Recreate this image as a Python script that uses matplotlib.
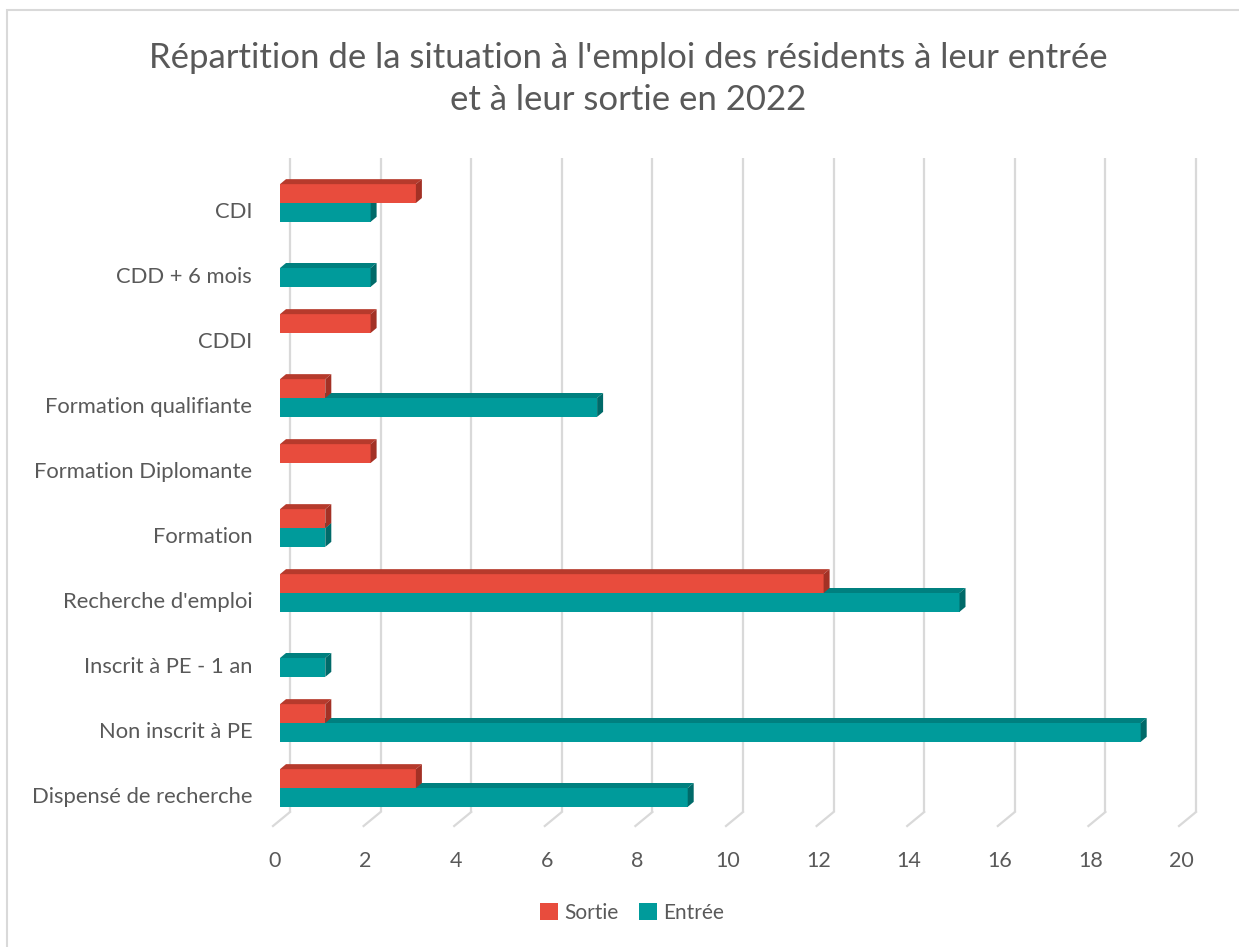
import numpy as np
import matplotlib.pyplot as plt
from matplotlib.patches import Polygon, Rectangle, Patch
from matplotlib.transforms import ScaledTranslation, offset_copy

plt.rcParams['font.family'] = ['Lato', 'DejaVu Sans']

# Données
categories = [
    "CDI",
    "CDD + 6 mois",
    "CDDI",
    "Formation qualifiante",
    "Formation Diplomante",
    "Formation",
    "Recherche d'emploi",
    "Inscrit à PE - 1 an",
    "Non inscrit à PE",
    "Dispensé de recherche",
]
sortie = [3, 0, 2, 1, 2, 1, 12, 0, 1, 3]
entree = [2, 2, 0, 7, 0, 1, 15, 1, 19, 9]
series_names = ["Sortie", "Entrée"]
x_ticks = list(range(0, 21, 2))

# Couleurs (face avant, dessus, côté)
red = ("#E84C3D", "#B63A2C", "#A33125")
teal = ("#009B9B", "#00807F", "#006A69")
grey_txt = "#595959"
grid_col = "#D9D9D9"

W, H = 1239, 947
fig = plt.figure(figsize=(W / 100, H / 100), dpi=100)

# axe : x=0 -> 280 px, 45.3 px par unité ; catégories espacées de 65 px
px_unit = 45.3
row = 65.0
y_top_px, y_bot_px = 158, 812
first_center = 203
ylo = (y_top_px - first_center) / row
yhi = (y_bot_px - first_center) / row
ax = fig.add_axes([280 / W, (H - y_bot_px) / H, 20 * px_unit / W, (y_bot_px - y_top_px) / H])
ax.set_xlim(0, 20)
ax.set_ylim(yhi, ylo)
for s in ax.spines.values():
    s.set_visible(False)

# paroi arrière : quadrillage vertical + lignes du sol
back = offset_copy(ax.transData, fig, x=10, y=0, units="dots")
ax.vlines(x_ticks, yhi, ylo, colors=grid_col, lw=1.6, transform=back, clip_on=False, zorder=1)
for v in x_ticks:
    p0 = ax.transData.transform((v, yhi)) + np.array([10, 0])
    p1 = ax.transData.transform((v, yhi)) + np.array([-7, -14])
    ax.plot([p0[0], p1[0]], [p0[1], p1[1]], color=grid_col, lw=1.6,
            transform=None, clip_on=False, zorder=1)

# barres 3D
h = 0.29
ddx, ddy = 6, 5  # profondeur en pixels


def bar3d(y0, val, cols, z):
    if val <= 0:
        return
    tr = ax.transData
    x0, yb = tr.transform((0, y0 + h / 2))
    x1, yt = tr.transform((val, y0 - h / 2))
    front = Polygon([(x0, yb), (x1, yb), (x1, yt), (x0, yt)], closed=True,
                    facecolor=cols[0], edgecolor="none", transform=None, zorder=z)
    top = Polygon([(x0, yt), (x1, yt), (x1 + ddx, yt + ddy), (x0 + ddx, yt + ddy)], closed=True,
                  facecolor=cols[1], edgecolor="none", transform=None, zorder=z)
    side = Polygon([(x1, yb), (x1 + ddx, yb + ddy), (x1 + ddx, yt + ddy), (x1, yt)], closed=True,
                   facecolor=cols[2], edgecolor="none", transform=None, zorder=z)
    for p in (front, top, side):
        p.set_clip_on(False)
        ax.add_artist(p)


for i in range(len(categories)):
    bar3d(i + h / 2, entree[i], teal, 3 + i * 2)
    bar3d(i - h / 2, sortie[i], red, 4 + i * 2)

# étiquettes
ax.set_xticks(x_ticks)
ax.set_xticklabels([str(t) for t in x_ticks], color=grey_txt, fontsize=15.5)
ax.tick_params(axis="x", length=0, pad=28)
for lab in ax.get_xticklabels():
    lab.set_transform(lab.get_transform() + ScaledTranslation(-0.05, 0, fig.dpi_scale_trans))
ax.set_yticks(range(len(categories)))
ax.set_yticklabels(categories, color=grey_txt, fontsize=15.8)
ax.tick_params(axis="y", length=0, pad=20)
for lab in ax.get_yticklabels():
    lab.set_transform(lab.get_transform() + ScaledTranslation(0, -0.07, fig.dpi_scale_trans))

fig.text(628 / W, 1 - 79 / H,
         "Répartition de la situation à l'emploi des résidents à leur entrée\net à leur sortie en 2022",
         ha="center", va="center", fontsize=25, color=grey_txt, linespacing=1.38)

handles = [Patch(facecolor=red[0], label=series_names[0]),
           Patch(facecolor=teal[0], label=series_names[1])]
fig.legend(handles=handles, loc="center", bbox_to_anchor=(632 / W, 1 - 913 / H), ncol=2,
           frameon=False, fontsize=15, labelcolor=grey_txt, handlelength=0.85, handleheight=0.85,
           handletextpad=0.3, columnspacing=1.0)

# cadre du graphique
fig.patches.append(Rectangle((7 / W, -0.01), 1.2, 1 - 10 / H + 0.01, transform=fig.transFigure,
                             fill=False, edgecolor=grid_col, lw=1.5))

fig.savefig("out.png", dpi=100)
